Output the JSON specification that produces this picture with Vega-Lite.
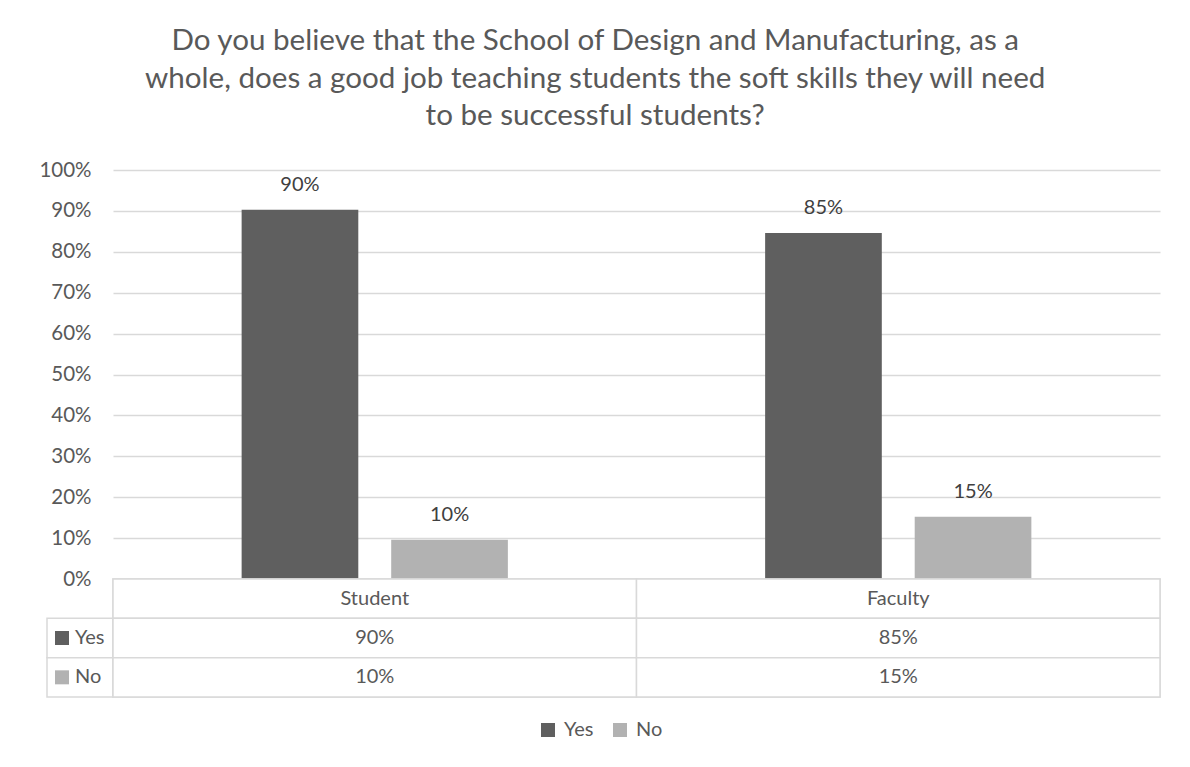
{
  "$schema": "https://vega.github.io/schema/vega-lite/v6.json",
  "background": "white",
  "padding": {"left": 38, "top": 26, "right": 5, "bottom": 5},
  "title": {
    "text": ["Do you believe that the School of Design and Manufacturing, as a", "whole, does a good job teaching students the soft skills they will need", "to be successful students?"],
    "anchor": "middle",
    "font": "Lato",
    "fontSize": 29.6,
    "fontWeight": "normal",
    "color": "#595959",
    "lineHeight": 37.5,
    "offset": 28,
    "dx": -5
  },
  "datasets": {
    "bars": [
      {"group": "Student", "answer": "Yes", "value": 0.903},
      {"group": "Student", "answer": "No", "value": 0.096},
      {"group": "Faculty", "answer": "Yes", "value": 0.846},
      {"group": "Faculty", "answer": "No", "value": 0.152}
    ],
    "groups": [{"group": "Student"}, {"group": "Faculty"}],
    "answers": [{"answer": "Yes"}, {"answer": "No"}]
  },
  "columns": 2,
  "spacing": 0,
  "bounds": "flush",
  "resolve": {"scale": {"color": "shared"}, "legend": {"color": "shared"}},
  "concat": [
    {
      "width": 66, "height": 409,
      "data": {"values": []},
      "mark": "point"
    },
    {
      "width": 1047, "height": 409,
      "data": {"name": "bars"},
      "encoding": {
        "x": {"field": "group", "type": "nominal", "sort": ["Student", "Faculty"], "scale": {"paddingInner": 0, "paddingOuter": 0}, "axis": null},
        "xOffset": {"field": "answer", "type": "nominal", "sort": ["Yes", "No"], "scale": {"paddingInner": 0.22, "paddingOuter": 0.86}},
        "y": {"field": "value", "type": "quantitative", "scale": {"domain": [0, 1]},
          "axis": {"values": [0, 0.1, 0.2, 0.3, 0.4, 0.5, 0.6, 0.7, 0.8, 0.9, 1], "format": ".0%", "domain": false, "ticks": false, "labelPadding": 22, "labelFont": "Lato", "labelFontSize": 20.5, "labelColor": "#595959", "gridColor": "#d9d9d9", "gridWidth": 1.3, "title": null}}
      },
      "layer": [
        {"mark": {"type": "bar"},
         "encoding": {"color": {"field": "answer", "type": "nominal", "sort": ["Yes", "No"], "scale": {"domain": ["Yes", "No"], "range": ["#5f5f5f", "#b2b2b2"]},
           "legend": {"orient": "bottom", "direction": "horizontal", "title": null, "symbolType": "square", "symbolSize": 196, "symbolStrokeWidth": 0, "labelFont": "Lato", "labelFontSize": 20, "labelColor": "#595959", "labelOffset": 6, "columnPadding": 16, "offset": 21}}}},
        {"mark": {"type": "text", "baseline": "alphabetic", "dy": -19, "font": "Lato", "fontSize": 20, "color": "#404040"},
         "encoding": {"text": {"field": "value", "type": "quantitative", "format": ".0%"}}}
      ]
    },
    {
      "width": 66, "height": 118,
      "data": {"name": "answers"},
      "encoding": {
        "y": {"field": "answer", "type": "nominal", "scale": {"type": "band", "domain": ["header", "Yes", "No"], "paddingInner": 0, "paddingOuter": 0}, "axis": null}
      },
      "layer": [
        {"mark": {"type": "rect", "fill": "white", "stroke": "#d9d9d9", "strokeWidth": 1.5}},
        {"mark": {"type": "point", "shape": "square", "filled": true, "size": 196, "opacity": 1},
         "encoding": {
           "x": {"datum": "key", "type": "nominal", "scale": {"type": "band", "domain": ["key"], "paddingInner": 0, "paddingOuter": 1, "align": 0.0909}, "axis": null},
           "color": {"field": "answer", "type": "nominal"}}},
        {"mark": {"type": "text", "align": "left", "dx": 13, "font": "Lato", "fontSize": 20, "color": "#595959"},
         "encoding": {
           "x": {"datum": "key", "type": "nominal"},
           "text": {"field": "answer"}}}
      ]
    },
    {
      "width": 1047, "height": 118,
      "view": {"stroke": "#d9d9d9", "strokeWidth": 1.5},
      "encoding": {
        "x": {"field": "group", "type": "nominal", "sort": ["Student", "Faculty"], "scale": {"type": "band", "paddingInner": 0, "paddingOuter": 0}, "axis": null}
      },
      "layer": [
        {"data": {"name": "groups"},
         "mark": {"type": "rect", "fill": "white", "stroke": "#d9d9d9", "strokeWidth": 1.5},
         "encoding": {
           "y": {"datum": "header", "type": "nominal", "scale": {"type": "band", "domain": ["header", "Yes", "No"], "paddingInner": 0, "paddingOuter": 0}, "axis": null}
         }},
        {"data": {"name": "bars"},
         "mark": {"type": "rect", "fill": "white", "stroke": "#d9d9d9", "strokeWidth": 1.5},
         "encoding": {
           "y": {"field": "answer", "type": "nominal"}
         }},
        {"data": {"name": "groups"},
         "mark": {"type": "text", "font": "Lato", "fontSize": 20, "color": "#595959"},
         "encoding": {
           "y": {"datum": "header", "type": "nominal"},
           "text": {"field": "group"}
         }},
        {"data": {"name": "bars"},
         "mark": {"type": "text", "font": "Lato", "fontSize": 20, "color": "#595959"},
         "encoding": {
           "y": {"field": "answer", "type": "nominal"},
           "text": {"field": "value", "type": "quantitative", "format": ".0%"}
         }}
      ]
    }
  ],
  "config": {
    "view": {"stroke": null},
    "font": "Lato",
    "legend": {"layout": {"bottom": {"anchor": "middle"}}}
  }
}
